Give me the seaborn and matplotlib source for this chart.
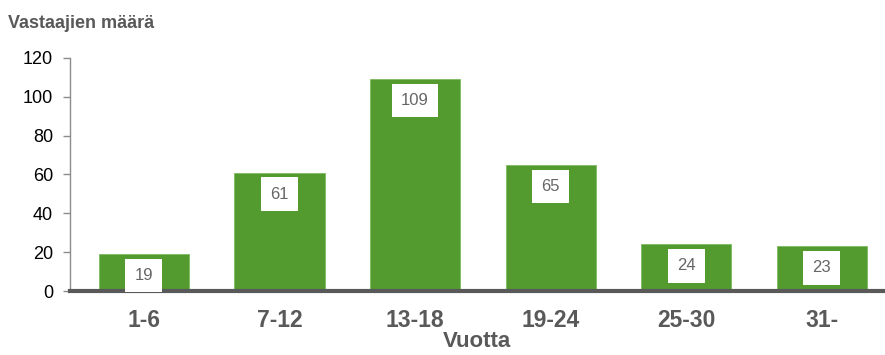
import matplotlib
matplotlib.use("Agg")
import matplotlib.pyplot as plt
import seaborn as sns
import pandas as pd

categories = ["1-6", "7-12", "13-18", "19-24", "25-30", "31-"]
counts = [19, 61, 109, 65, 24, 23]
y_ticks = [0, 20, 40, 60, 80, 100, 120]

sns.set_theme(style="white")
plt.rcParams["font.family"] = ["Liberation Sans", "DejaVu Sans"]

GRAY = "#595959"
GREEN = "#539B2F"

df = pd.DataFrame({"Vuotta": categories, "Vastaajat": counts})

fig = plt.figure(figsize=(8.85, 3.55), dpi=100)
ax = fig.add_axes([0.079, 0.180, 0.919, 0.657])

sns.barplot(data=df, x="Vuotta", y="Vastaajat", color=GREEN, saturation=1,
            width=0.665, edgecolor="#7DBB5E", linewidth=0.6, ax=ax)

ax.set_xlim(-0.546, 5.454)
ax.set_ylim(0, 120)
ax.set_yticks(y_ticks)
ax.set_yticklabels([str(t) for t in y_ticks], fontsize=13, color="black")
ax.tick_params(axis="y", length=5, width=1, color="#8C8C8C", pad=7, left=True)
ax.tick_params(axis="x", length=0, pad=13)
for lab in ax.get_xticklabels():
    lab.set_fontsize(16.5)
    lab.set_fontweight("bold")
    lab.set_color(GRAY)

ax.set_xlabel("Vuotta", fontsize=16, fontweight="bold", color=GRAY, labelpad=-1)
ax.set_ylabel("")

for side in ["top", "right"]:
    ax.spines[side].set_visible(False)
ax.spines["left"].set_color("#8C8C8C")
ax.spines["left"].set_linewidth(1)
ax.spines["bottom"].set_color(GRAY)
ax.spines["bottom"].set_linewidth(3)

# value labels in white boxes just inside the top of each bar
for patch, val in zip(ax.patches, counts):
    cx = patch.get_x() + patch.get_width() / 2
    ax.annotate(str(val), xy=(cx, val), xytext=(0, -15.5), textcoords="offset points",
                ha="center", va="center", fontsize=12, color="#666666",
                bbox=dict(boxstyle="square,pad=0.55", fc="white", ec="none"))

fig.text(0.009, 0.935, "Vastaajien määrä", fontsize=13, fontweight="bold",
         color=GRAY, ha="left", va="center")

fig.savefig("out.png", dpi=100)
